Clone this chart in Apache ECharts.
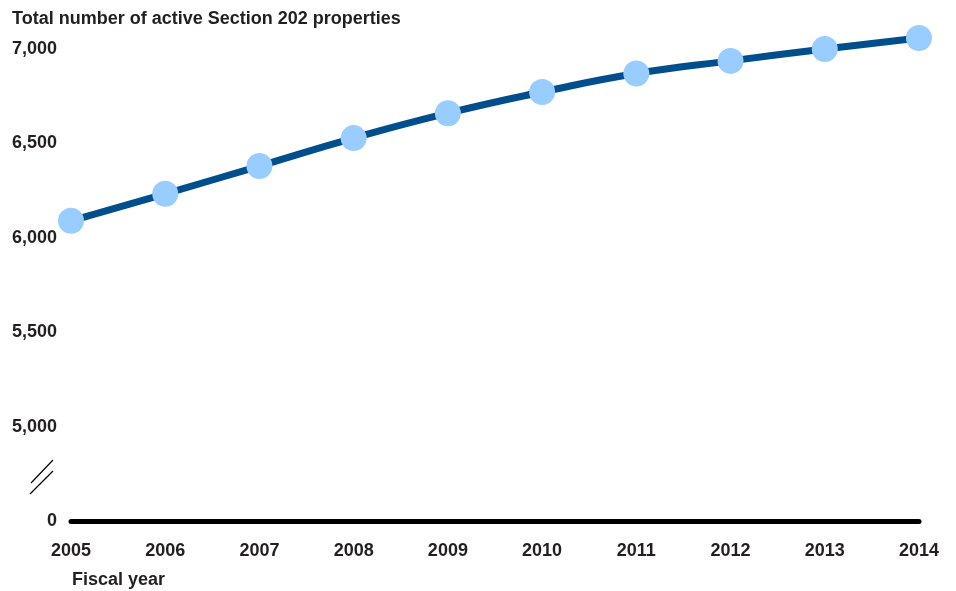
<!DOCTYPE html>
<html>
<head>
    <meta charset="utf-8">
    <title>Section 202 properties</title>
    <script src="https://cdn.jsdelivr.net/npm/echarts@6/dist/echarts.min.js"></script>
    <style>
        body { margin: 0; background: #fff; }
    </style>
</head>
<body>
    <div id="chart" style="width: 956px;height:591px;"></div>
    <script type="text/javascript">
        // data
        var years = ['2005', '2006', '2007', '2008', '2009', '2010', '2011', '2012', '2013', '2014'];
        var properties = [6090, 6233, 6380, 6528, 6660, 6772, 6870, 6937, 7000, 7058];
        // the axis is broken: the bottom gridline stands for 0
        var yTicks = [4500, 5000, 5500, 6000, 6500, 7000];

        var font = '"Liberation Sans", Arial, sans-serif';
        var myChart = echarts.init(document.getElementById('chart'));

        var option = {
            animation: false,
            title: {
                text: 'Total number of active Section 202 properties',
                left: 7,
                top: 5,
                textStyle: { fontFamily: font, fontSize: 18, fontWeight: 'bold', color: '#231f20' }
            },
            grid: { left: 71, right: 37, top: 49, bottom: 70 },
            xAxis: {
                type: 'category',
                data: years,
                boundaryGap: false,
                axisLine: { lineStyle: { color: '#000', width: 5 } },
                axisTick: { show: false },
                axisLabel: {
                    margin: 21,
                    fontFamily: font, fontSize: 18, fontWeight: 'bold', color: '#231f20'
                }
            },
            yAxis: {
                type: 'value',
                min: yTicks[0],
                max: yTicks[yTicks.length - 1],
                interval: 500,
                splitLine: { show: false },
                axisLine: { show: false },
                axisTick: { show: false },
                axisLabel: {
                    margin: 14,
                    fontFamily: font, fontSize: 18, fontWeight: 'bold', color: '#231f20',
                    formatter: function (v) {
                        if (v === yTicks[0]) return '0';
                        return v.toLocaleString('en-US');
                    }
                }
            },
            graphic: [
                { type: 'line', shape: { x1: 30, y1: 494, x2: 53, y2: 471 }, style: { stroke: '#000', lineWidth: 1.2 } },
                { type: 'line', shape: { x1: 31, y1: 483, x2: 53, y2: 460 }, style: { stroke: '#000', lineWidth: 1.2 } },
                {
                    type: 'text', left: 72, top: 571,
                    style: { text: 'Fiscal year', font: 'bold 18px ' + font, fill: '#231f20' }
                }
            ],
            series: [{
                type: 'line',
                data: properties,
                smooth: true,
                clip: false,
                symbol: 'circle',
                symbolSize: 26,
                lineStyle: { color: '#004f8c', width: 7 },
                itemStyle: { color: '#99ccff' },
                z: 3
            }]
        };

        myChart.setOption(option);
    </script>
</body>
</html>
